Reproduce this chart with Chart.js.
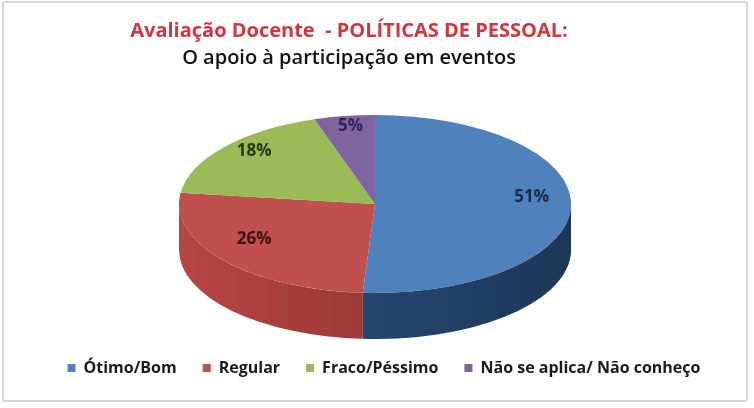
<!DOCTYPE html>
<html>
<head>
<meta charset="utf-8">
<script src="https://cdn.jsdelivr.net/npm/chart.js@4/dist/chart.umd.min.js"></script>
<style>
  body { margin: 0; background: #fff; }
  #frame { position: absolute; left: 2px; top: 1px; width: 742px; height: 397px; border: 2px solid #d6d6d6; border-radius: 3px; }
  #myChart { position: absolute; left: 0; top: 0; }
</style>
</head>
<body>
<div id="frame"></div>
<canvas id="myChart" width="754" height="408"></canvas>
<script>
// Dados da avaliação
const categorias = ['Ótimo/Bom', 'Regular', 'Fraco/Péssimo', 'Não se aplica/ Não conheço'];
const percentuais = [51, 26, 18, 5];
const coresTopo = ['#4f81bd', '#c0504d', '#9bbb59', '#8064a2'];
const coresLateral = ['#2d5386', '#b84542', '#7f9c45', '#5f4a80'];
const coresRotulo = ['#1c2b4c', '#3e0f0f', '#1f3a10', '#352058'];

// elipse da face superior e altura da lateral (pizza 3D)
const elipse = { x: 375, y: 204, rx: 196, ry: 89, altura: 46 };

const pizza3d = {
  id: 'pizza3d',
  afterLayout(chart) {
    // título/subtítulo um pouco à esquerda, legenda um pouco à direita
    chart.boxes.forEach(box => {
      const dx = box.position === 'top' ? -28 : box.position === 'bottom' ? 7 : 0;
      box.left += dx;
      box.right += dx;
    });
  },
  beforeDatasetsDraw(chart) {
    const ctx = chart.ctx;
    const meta = chart.getDatasetMeta(0);
    const e = elipse;

    // lateral: só a metade da frente (ângulos 0..PI) aparece
    meta.data.forEach((arc, i) => {
      const a = Math.max(arc.startAngle, 0);
      const b = Math.min(arc.endAngle, Math.PI);
      if (b <= a) return;
      ctx.save();
      ctx.beginPath();
      ctx.ellipse(e.x, e.y, e.rx, e.ry, 0, a, b, false);
      ctx.lineTo(e.x + e.rx * Math.cos(b), e.y + e.altura + e.ry * Math.sin(b));
      ctx.ellipse(e.x, e.y + e.altura, e.rx, e.ry, 0, b, a, true);
      ctx.closePath();
      ctx.fillStyle = coresLateral[i];
      ctx.fill();
      const g = ctx.createLinearGradient(e.x - e.rx, 0, e.x + e.rx, 0);
      g.addColorStop(0, 'rgba(0,0,0,0)');
      g.addColorStop(1, 'rgba(0,0,0,0.35)');
      ctx.fillStyle = g;
      ctx.fill();
      ctx.restore();
    });

    // achata o círculo do Chart.js na elipse
    const arc0 = meta.data[0];
    const r = arc0.outerRadius;
    ctx.save();
    ctx.translate(e.x, e.y);
    ctx.scale(e.rx / r, e.ry / r);
    ctx.translate(-arc0.x, -arc0.y);
  },
  afterDatasetsDraw(chart) {
    const ctx = chart.ctx;
    ctx.restore();
    const meta = chart.getDatasetMeta(0);
    const e = elipse;
    ctx.save();
    ctx.font = 'bold 17px "Open Sans"';
    ctx.textAlign = 'center';
    ctx.textBaseline = 'middle';
    meta.data.forEach((arc, i) => {
      const m = (arc.startAngle + arc.endAngle) / 2;
      const x = e.x + e.rx * 0.8 * Math.cos(m);
      const y = e.y + e.ry * 0.78 * Math.sin(m) - 9;
      ctx.fillStyle = coresRotulo[i];
      ctx.fillText(percentuais[i] + '%', x, y);
    });
    ctx.restore();
  }
};

const ctx = document.getElementById('myChart');

const myChart = new Chart(ctx, {
  type: 'pie',
  data: {
    labels: categorias,
    datasets: [{
      data: percentuais,
      backgroundColor: coresTopo,
      borderWidth: 0,
      clip: false
    }]
  },
  options: {
    responsive: false,
    animation: false,
    layout: { padding: { top: 0, bottom: 22, left: 20, right: 20 } },
    plugins: {
      title: {
        display: true,
        text: 'Avaliação Docente  - POLÍTICAS DE PESSOAL:',
        color: '#d4343d',
        font: { family: 'Open Sans', size: 20, weight: 'bold' },
        padding: { top: 19, bottom: 0 }
      },
      subtitle: {
        display: true,
        text: 'O apoio à participação em eventos',
        color: '#111',
        font: { family: 'Open Sans', size: 20, weight: '600' },
        padding: { top: 3, bottom: 10 }
      },
      legend: {
        position: 'bottom',
        labels: {
          boxWidth: 8,
          boxHeight: 8,
          padding: 26,
          color: '#1a1a1a',
          font: { family: 'Open Sans', size: 16, weight: 'bold' }
        }
      },
      tooltip: { enabled: false }
    }
  },
  plugins: [pizza3d]
});
</script>
</body>
</html>
